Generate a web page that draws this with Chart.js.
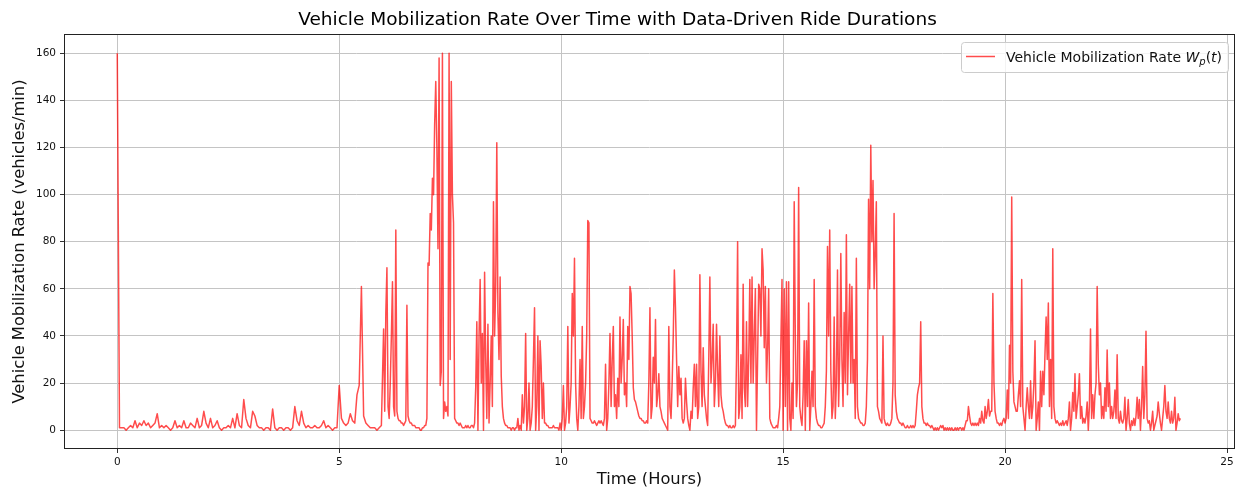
<!DOCTYPE html>
<html>
<head>
<meta charset="utf-8">
<script src="https://cdn.jsdelivr.net/npm/chart.js@4.4.1/dist/chart.umd.min.js"></script>
<style>
  html, body { margin: 0; padding: 0; background: #fff; }
</style>
</head>
<body>
<canvas id="chart" width="1242" height="488"></canvas>
<script>
// mobilization rate, one line per hour
// the quiet night block is sampled every 3 min, the rest every 1.5 min
const nightStep = 0.05
const morningStep = 0.025
const afternoonStep = 0.025
const eveningStep = 0.025

const rateNight = [ // 00h - 06h
  160, 1, 1, 1, 0, 1, 2, 1, 4, 1, 3, 2, 4, 2, 3, 1, 2, 3, 7, 1,
  2, 1, 2, 1, 0, 1, 4, 1, 2, 1, 4, 1, 1, 3, 2, 1, 5, 1, 2, 8,
  3, 1, 5, 1, 2, 4, 1, 0, 1, 1, 2, 1, 5, 1, 7, 2, 1, 13, 5, 2,
  1, 8, 6, 2, 1, 1, 0, 1, 1, 0, 9, 1, 0, 1, 1, 0, 1, 1, 0, 1,
  10, 4, 2, 8, 3, 1, 2, 1, 1, 2, 1, 1, 2, 4, 1, 2, 1, 0, 1, 1,
  19, 5, 3, 2, 3, 7, 4, 3, 15, 19, 61, 6, 3, 2, 1, 1, 1, 0, 1, 2,
]

const rateMorning = [ // 06h - 12h
  43, 8, 50, 69, 10, 5, 20, 40, 63, 10, 6, 85, 8, 5, 4, 4, 3, 3, 2, 3, 4, 53, 6, 4, 3, 3, 2, 2, 2, 1, 1, 1, 1, 0, 0, 1, 1, 2, 2, 5,
  71, 70, 92, 85, 107, 100, 130, 148, 120, 77, 158, 19, 25, 160, 5, 12, 8, 10, 6, 160, 30, 148, 100, 88, 5, 4, 3, 3, 2, 3, 2, 1, 1, 1, 2, 1, 2, 1, 1, 2,
  2, 1, 3, 18, 46, 0, 40, 64, 20, 41, 0, 67, 30, 5, 45, 3, 20, 40, 10, 97, 40, 60, 122, 50, 30, 65, 23, 10, 5, 3, 2, 2, 1, 1, 1, 0, 1, 1, 0, 1,
  1, 5, 0, 2, 0, 15, 3, 10, 41, 0, 5, 20, 0, 3, 10, 30, 52, 0, 10, 40, 0, 38, 27, 5, 20, 3, 3, 2, 2, 1, 1, 1, 1, 2, 1, 1, 1, 1, 0, 3,
  0, 5, 19, 0, 3, 10, 44, 3, 10, 20, 58, 40, 73, 20, 5, 0, 10, 30, 5, 44, 5, 10, 20, 40, 89, 88, 5, 4, 3, 3, 4, 3, 2, 3, 4, 3, 4, 3, 2, 5,
  28, 0, 5, 20, 41, 10, 30, 44, 10, 15, 5, 22, 10, 48, 20, 30, 47, 15, 20, 10, 44, 30, 61, 58, 40, 18, 13, 12, 10, 8, 6, 5, 5, 4, 4, 3, 3, 4, 3, 20,
]

const rateAfternoon = [ // 12h - 18h
  52, 5, 10, 31, 20, 47, 10, 15, 24, 10, 8, 5, 4, 3, 2, 1, 0, 44, 10, 5, 20, 40, 68, 52, 30, 10, 27, 15, 22, 5, 3, 5, 22, 12, 5, 2, 0, 8, 5, 18,
  28, 10, 28, 5, 10, 66, 25, 10, 35, 15, 10, 5, 2, 30, 65, 20, 30, 45, 10, 20, 45, 25, 10, 40, 15, 10, 8, 5, 3, 2, 2, 1, 2, 1, 1, 2, 1, 2, 30, 80,
  5, 10, 32, 5, 62, 18, 10, 46, 10, 30, 64, 20, 65, 20, 40, 60, 0, 30, 62, 60, 40, 77, 68, 35, 61, 20, 35, 60, 5, 3, 2, 1, 1, 1, 2, 1, 5, 10, 38, 64,
  0, 60, 10, 63, 0, 63, 5, 0, 20, 5, 97, 40, 10, 20, 103, 10, 5, 2, 15, 38, 0, 38, 10, 54, 0, 10, 25, 10, 64, 10, 5, 3, 2, 2, 1, 1, 2, 3, 10, 25,
  78, 40, 85, 25, 5, 10, 48, 5, 20, 68, 10, 30, 75, 30, 10, 50, 20, 83, 15, 40, 62, 20, 61, 20, 30, 5, 73, 10, 5, 4, 3, 3, 2, 2, 3, 10, 30, 98, 60, 121,
  80, 106, 60, 75, 97, 10, 8, 5, 4, 3, 40, 5, 3, 2, 3, 2, 2, 3, 5, 20, 92, 15, 8, 5, 4, 3, 3, 2, 3, 2, 1, 1, 2, 1, 1, 2, 1, 2, 1, 2,
]

const rateEvening = [ // 18h - 24h
  8, 15, 18, 20, 46, 10, 5, 3, 3, 2, 3, 2, 2, 1, 2, 1, 0, 1, 0, 1, 0, 1, 2, 1, 2, 0, 1, 0, 1, 0, 1, 0, 1, 0, 0, 1, 0, 1, 0, 1,
  1, 0, 1, 0, 2, 4, 4, 10, 6, 3, 2, 3, 2, 3, 2, 3, 2, 5, 3, 8, 4, 3, 10, 5, 8, 13, 6, 8, 8, 58, 20, 8, 5, 3, 3, 2, 3, 2, 4, 5,
  3, 5, 17, 5, 36, 20, 99, 25, 12, 10, 8, 8, 15, 21, 10, 64, 10, 5, 0, 10, 18, 10, 5, 21, 5, 10, 20, 38, 0, 5, 12, 0, 25, 10, 25, 15, 33, 48, 30, 54,
  10, 30, 5, 77, 10, 5, 3, 4, 3, 2, 3, 2, 4, 2, 3, 4, 2, 5, 12, 0, 5, 16, 8, 24, 5, 10, 15, 24, 5, 10, 3, 5, 3, 6, 12, 0, 10, 43, 5, 15,
  5, 15, 20, 61, 28, 15, 20, 5, 10, 5, 18, 8, 34, 10, 20, 5, 10, 5, 8, 17, 5, 32, 5, 3, 8, 4, 3, 5, 14, 0, 5, 13, 3, 0, 4, 2, 5, 2, 6, 14,
  5, 13, 0, 10, 27, 5, 15, 42, 5, 3, 4, 0, 3, 8, 0, 2, 4, 6, 12, 7, 3, 0, 5, 10, 19, 8, 5, 12, 5, 3, 8, 3, 5, 14, 0, 3, 7, 4, 5,
]

const xTicks = [0, 5, 10, 15, 20, 25]
const yTicks = [0, 20, 40, 60, 80, 100, 120, 140, 160]

const titleText = 'Vehicle Mobilization Rate Over Time with Data-Driven Ride Durations'
const legendLabel = 'Vehicle Mobilization Rate '

// styles
const family = '"DejaVu Sans", sans-serif'
const lineColor = 'rgba(255, 0, 0, 0.7)'
const gridColor = '#c4c4c4'
const textColor = '#111'

const blockPoints = (values, startHour, step) =>
  values.map((v, i) => ({ x: +(startHour + i * step).toFixed(3), y: v }))

const points = [].concat(
  blockPoints(rateNight, 0, nightStep),
  blockPoints(rateMorning, 6, morningStep),
  blockPoints(rateAfternoon, 12, afternoonStep),
  blockPoints(rateEvening, 18, eveningStep),
)

// plot frame drawn on top of the line, like matplotlib spines
const framePlugin = {
  id: 'frame',
  afterDatasetsDraw(chart) {
    const { ctx, chartArea: a } = chart
    ctx.save()
    ctx.strokeStyle = '#222'
    ctx.lineWidth = 1
    const l = Math.round(a.left) + 0.5
    const t = Math.round(a.top) + 0.5
    const r = Math.round(a.right) - 0.5
    const b = Math.round(a.bottom) - 0.5
    ctx.strokeRect(l, t, r - l, b - t)
    ctx.restore()
  }
}

// legend with the W_p(t) symbol set in italics with a subscript
const legendPlugin = {
  id: 'mathLegend',
  afterDraw(chart) {
    const { ctx, chartArea: a } = chart
    const fs = 14
    const plain = `${fs}px ${family}`
    const ital = `italic ${fs}px ${family}`
    const sub = `italic ${Math.round(fs * 0.7)}px ${family}`
    const parts = [
      { text: legendLabel, font: plain, dy: 0 },
      { text: 'W', font: ital, dy: 0 },
      { text: 'p', font: sub, dy: 3 },
      { text: '(', font: plain, dy: 0 },
      { text: 't', font: ital, dy: 0 },
      { text: ')', font: plain, dy: 0 },
    ]
    ctx.save()
    let textW = 0
    parts.forEach(p => {
      ctx.font = p.font
      p.w = ctx.measureText(p.text).width
      textW += p.w
    })
    const boxW = Math.round(45 + textW + 6)
    const boxH = 30
    const x1 = Math.round(a.right) - 7
    const x0 = x1 - boxW
    const y0 = Math.round(a.top) + 8

    ctx.beginPath()
    ctx.roundRect(x0 + 0.5, y0 + 0.5, boxW, boxH, 3)
    ctx.fillStyle = 'rgba(255, 255, 255, 0.8)'
    ctx.fill()
    ctx.strokeStyle = '#cccccc'
    ctx.lineWidth = 1
    ctx.stroke()

    ctx.beginPath()
    ctx.moveTo(x0 + 5, y0 + 14.5)
    ctx.lineTo(x0 + 34, y0 + 14.5)
    ctx.strokeStyle = lineColor
    ctx.lineWidth = 1.5
    ctx.stroke()

    ctx.fillStyle = textColor
    ctx.textBaseline = 'alphabetic'
    let tx = x0 + 45
    const ty = y0 + 20
    parts.forEach(p => {
      ctx.font = p.font
      ctx.fillText(p.text, tx, ty + p.dy)
      tx += p.w
    })
    ctx.restore()
  }
}

const ctx = document.getElementById('chart')

new Chart(ctx, {
  type: 'line',
  data: {
    datasets: [{
      label: 'Vehicle Mobilization Rate',
      data: points,
      borderColor: lineColor,
      borderWidth: 1.5,
      borderJoinStyle: 'round',
      pointRadius: 0,
      tension: 0,
      fill: false,
    }]
  },
  options: {
    responsive: false,
    animation: false,
    layout: { padding: { left: 0, right: 7, top: 0, bottom: 0 } },
    plugins: {
      legend: { display: false },
      tooltip: { enabled: false },
      title: {
        display: true,
        text: titleText,
        color: '#000',
        font: { family, size: 18.5, weight: 'normal' },
        padding: { top: 9.5, bottom: 2.3 },
      },
    },
    scales: {
      x: {
        type: 'linear',
        min: -1.2,
        max: 25.18,
        afterBuildTicks: (axis) => { axis.ticks = xTicks.map(v => ({ value: v })) },
        afterFit: (axis) => { axis.height = 39 },
        border: { display: false },
        grid: { color: gridColor, lineWidth: 1, tickColor: '#333', tickLength: 4 },
        ticks: { color: textColor, font: { family, size: 10.5 }, padding: 3, maxRotation: 0 },
        title: {
          display: true,
          text: 'Time (Hours)',
          color: textColor,
          font: { family, size: 16.3, lineHeight: 1 },
          padding: 0,
        },
      },
      y: {
        min: -8,
        max: 168.2,
        afterBuildTicks: (axis) => { axis.ticks = yTicks.map(v => ({ value: v })) },
        afterFit: (axis) => { axis.width = 64 },
        border: { display: false },
        grid: { color: gridColor, lineWidth: 1, tickColor: '#333', tickLength: 4 },
        ticks: { color: textColor, font: { family, size: 10.5 }, padding: 4 },
        title: {
          display: true,
          text: 'Vehicle Mobilization Rate (vehicles/min)',
          color: textColor,
          font: { family, size: 16.3 },
          padding: { top: 10, bottom: 0 },
        },
      },
    },
  },
  plugins: [framePlugin, legendPlugin],
})
</script>
</body>
</html>
